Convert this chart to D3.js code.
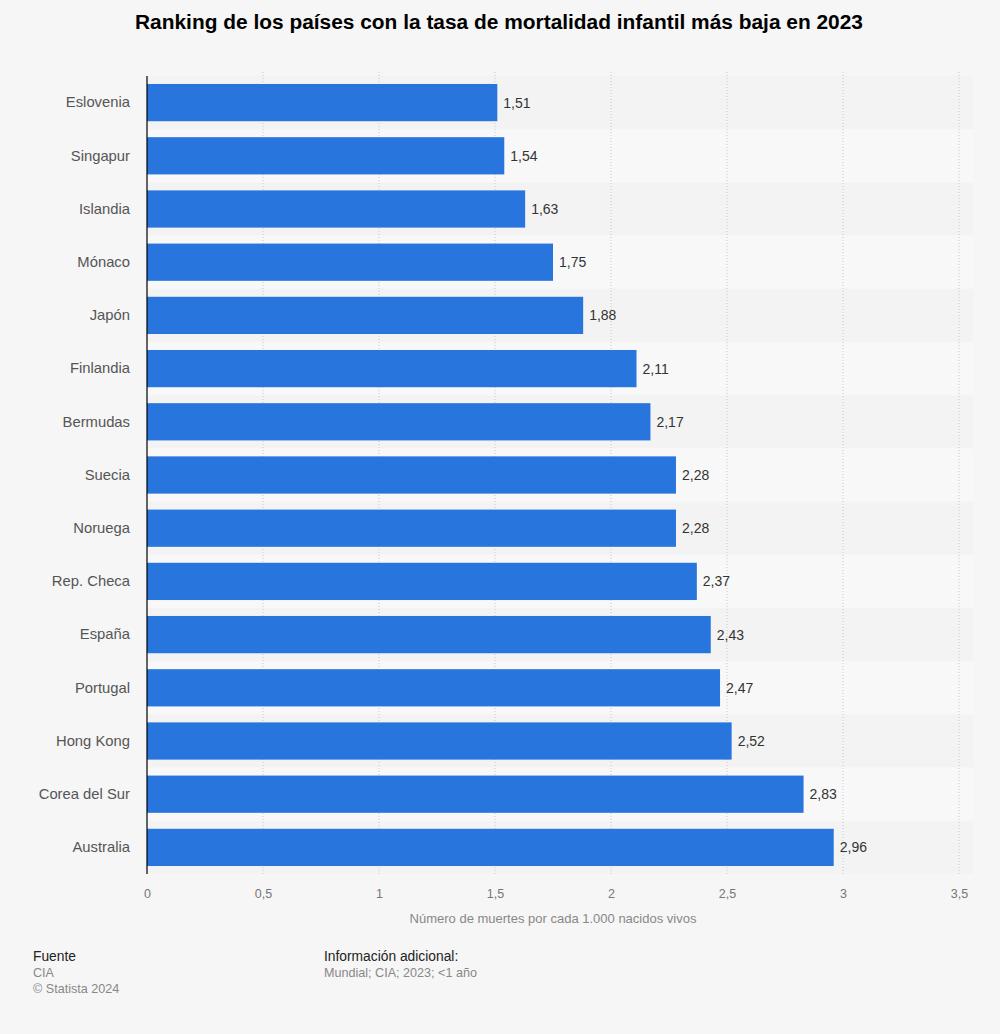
<!DOCTYPE html>
<html lang="es">
<head>
<meta charset="utf-8">
<title>Mortalidad infantil 2023</title>
<script src="https://cdn.jsdelivr.net/npm/d3@7/dist/d3.min.js"></script>
<style>
  body { margin: 0; background: #f6f6f6; font-family: "Liberation Sans", Arial, sans-serif; }
</style>
</head>
<body>
<div id="chart"></div>
<script>
// datos
var paises = ["Eslovenia", "Singapur", "Islandia", "Mónaco", "Japón", "Finlandia", "Bermudas",
              "Suecia", "Noruega", "Rep. Checa", "España", "Portugal", "Hong Kong", "Corea del Sur", "Australia"];
var tasas = [1.51, 1.54, 1.63, 1.75, 1.88, 2.11, 2.17, 2.28, 2.28, 2.37, 2.43, 2.47, 2.52, 2.83, 2.96];
var ticksX = [0, 0.5, 1, 1.5, 2, 2.5, 3, 3.5];

var width = 1000, height = 1034;
var margin = { top: 76, right: 40, bottom: 160, left: 147 };
var innerW = 959 - margin.left;
var innerH = 874 - margin.top;

var fmt = function(v) { return String(v).replace(".", ","); };

var svg = d3.select("#chart").append("svg")
    .attr("width", width)
    .attr("height", height)
    .style("display", "block");

svg.append("rect").attr("width", width).attr("height", height).attr("fill", "#f6f6f6");

svg.append("text")
    .attr("x", 499)
    .attr("y", 29)
    .attr("text-anchor", "middle")
    .style("font-size", "20.9px")
    .style("font-weight", "bold")
    .style("fill", "#000")
    .text("Ranking de los países con la tasa de mortalidad infantil más baja en 2023");

var g = svg.append("g").attr("transform", "translate(" + margin.left + "," + margin.top + ")");

var x = d3.scaleLinear().domain([0, 3.5]).range([0, innerW]);
var y = d3.scaleBand().domain(paises).range([0, innerH]).paddingInner(0.3).paddingOuter(0.15);
var rows = d3.scaleBand().domain(paises).range([0, innerH]);

// bandas alternas
g.selectAll(".banda")
    .data(paises)
    .enter().append("rect")
    .attr("class", "banda")
    .attr("x", 0)
    .attr("width", innerW + 14)
    .attr("y", function(d) { return rows(d); })
    .attr("height", rows.bandwidth())
    .attr("fill", function(d, i) { return i % 2 === 0 ? "#f3f3f3" : "#f8f8f8"; });

// rejilla
g.selectAll(".grid")
    .data(ticksX.slice(1))
    .enter().append("line")
    .attr("class", "grid")
    .attr("x1", function(d) { return x(d); })
    .attr("x2", function(d) { return x(d); })
    .attr("y1", -4)
    .attr("y2", innerH)
    .attr("stroke", "#c8c8c8")
    .attr("stroke-width", 1)
    .attr("stroke-dasharray", "1,2");

g.selectAll(".bar")
    .data(tasas)
    .enter().append("rect")
    .attr("class", "bar")
    .attr("x", 0)
    .attr("y", function(d, i) { return y(paises[i]); })
    .attr("width", function(d) { return x(d); })
    .attr("height", y.bandwidth())
    .attr("fill", "#2876dd");

g.selectAll(".valor")
    .data(tasas)
    .enter().append("text")
    .attr("class", "valor")
    .attr("x", function(d) { return x(d) + 6; })
    .attr("y", function(d, i) { return y(paises[i]) + y.bandwidth() / 2; })
    .attr("dy", "0.35em")
    .style("font-size", "14px")
    .style("fill", "#333")
    .text(function(d) { return fmt(d); });

// eje y
var yAxis = d3.axisLeft(y).tickSize(0).tickPadding(17);
var gy = g.append("g").call(yAxis);
gy.select(".domain").remove();
gy.selectAll("text").style("font-size", "14.8px").style("fill", "#555")
    .style("font-family", "'Liberation Sans', Arial, sans-serif");

g.append("line")
    .attr("x1", 0).attr("x2", 0)
    .attr("y1", 0).attr("y2", innerH)
    .attr("stroke", "#000").attr("stroke-width", 1.2);

// eje x
var xAxis = d3.axisBottom(x).tickValues(ticksX).tickSize(0).tickPadding(15).tickFormat(fmt);
var gx = g.append("g").attr("transform", "translate(0," + innerH + ")").call(xAxis);
gx.select(".domain").remove();
gx.selectAll("text").style("font-size", "12.5px").style("fill", "#777")
    .style("font-family", "'Liberation Sans', Arial, sans-serif");

svg.append("text")
    .attr("x", 553)
    .attr("y", 923)
    .attr("text-anchor", "middle")
    .style("font-size", "13px")
    .style("fill", "#888")
    .text("Número de muertes por cada 1.000 nacidos vivos");

// pie
var pie = [
    { x: 33, y: 961, t: "Fuente", c: "#222", s: "13.8px" },
    { x: 33, y: 977, t: "CIA", c: "#888", s: "12.6px" },
    { x: 33, y: 993, t: "© Statista 2024", c: "#888", s: "12.6px" },
    { x: 324, y: 961, t: "Información adicional:", c: "#222", s: "13.8px" },
    { x: 324, y: 977, t: "Mundial; CIA; 2023; <1 año", c: "#888", s: "12.6px" }
];
svg.selectAll(".pie")
    .data(pie)
    .enter().append("text")
    .attr("class", "pie")
    .attr("x", function(d) { return d.x; })
    .attr("y", function(d) { return d.y; })
    .style("font-size", function(d) { return d.s; })
    .style("fill", function(d) { return d.c; })
    .text(function(d) { return d.t; });
</script>
</body>
</html>
